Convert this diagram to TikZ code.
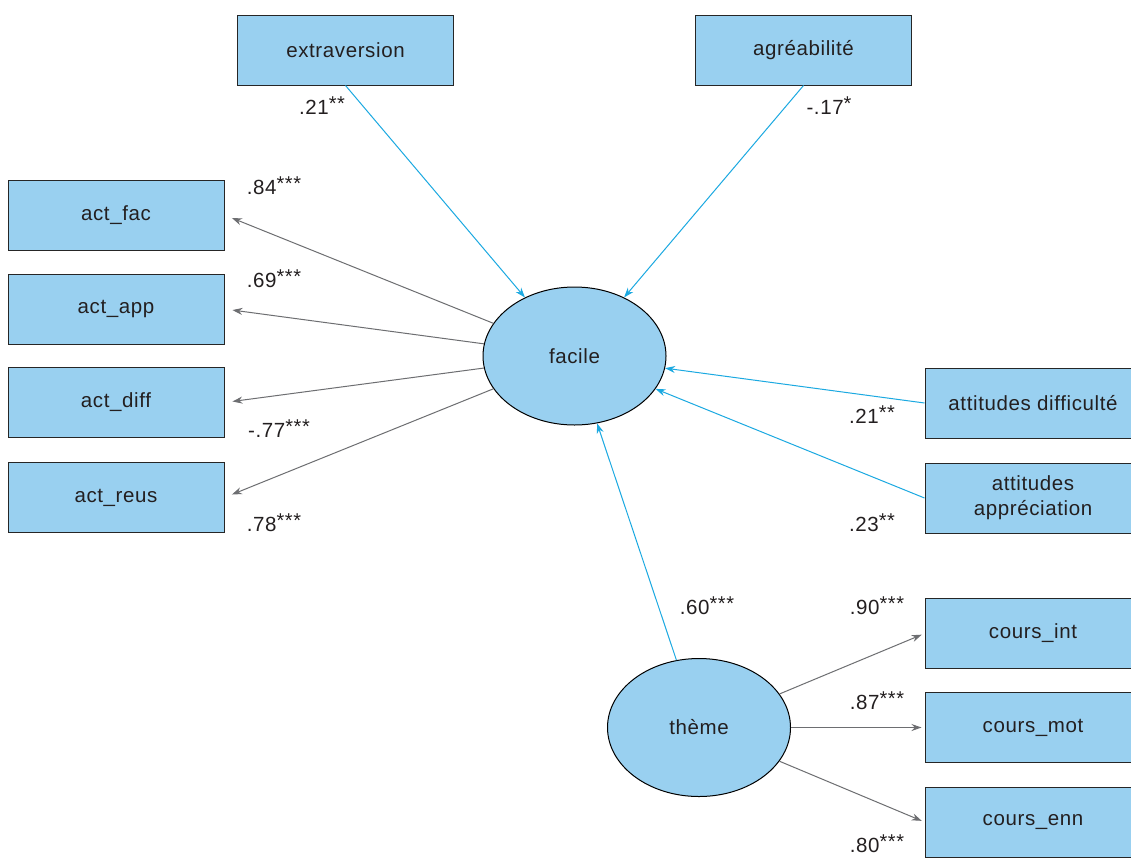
\documentclass[tikz,border=0pt]{standalone}
\usepackage{fontspec}
\setmainfont{Liberation Sans}[LetterSpace=3]
\usetikzlibrary{arrows.meta,shapes.geometric}
\definecolor{boxfill}{HTML}{99D0F0}
\definecolor{cyanline}{HTML}{1BA9E1}
\definecolor{greyline}{HTML}{6D6E71}
\definecolor{txt}{HTML}{231F20}
\newcommand\sig[1]{\raisebox{0.2em}{\fontsize{20}{20}\selectfont #1}}
\begin{document}
\begin{tikzpicture}[x=1pt,y=-1pt,
  every node/.style={font=\fontsize{20.5}{24}\selectfont, text=txt},
  obs/.style={draw=black!85, line width=1pt, fill=boxfill, minimum width=216pt, minimum height=70pt, inner sep=0pt},
  lat/.style={draw=black, line width=1pt, fill=boxfill, ellipse, minimum width=183pt, minimum height=138pt, inner sep=0pt},
  blueedge/.style={draw=cyanline, line width=1pt, -{Stealth[length=10pt,width=7pt]}},
  greyedge/.style={draw=greyline, line width=1pt, -{Stealth[length=10pt,width=7pt]}},
  coef/.style={inner sep=0pt}]
\useasboundingbox (0,0) rectangle (1131,857);
\clip (0,0) rectangle (1131,857);
\fill[white] (0,0) rectangle (1131,857);
% nodes
\node[obs] (ext) at (345.5,50) {extraversion};
\node[obs] (agr) at (803.5,50) {agréabilité};
\node[obs] (actfac) at (116,215) {act\_fac};
\node[obs] (actapp) at (116,309) {act\_app};
\node[obs] (actdiff) at (116,402.5) {act\_diff};
\node[obs] (actreus) at (116,497.5) {act\_reus};
\node[lat] (facile) at (574.5,356) {facile};
\node[obs] (attdiff) at (1033,403) {attitudes difficulté};
\node[obs, align=center, font=\fontsize{20.5}{25}\selectfont] (attapp) at (1033,498) {attitudes\\appréciation};
\node[lat] (theme) at (699,727.5) {thème};
\node[obs] (coursint) at (1033,633.5) {cours\_int};
\node[obs] (coursmot) at (1033,727.5) {cours\_mot};
\node[obs] (coursenn) at (1033,822) {cours\_enn};
% blue edges
\draw[blueedge] (ext.south) -- (facile);
\draw[blueedge] (agr.south) -- (facile);
\draw[blueedge] (attdiff.west) -- (facile);
\draw[blueedge] (attapp.west) -- (facile);
\draw[blueedge] (theme) -- (facile);
% grey edges
\draw[greyedge, shorten >=8pt] (facile) -- (actfac.east);
\draw[greyedge, shorten >=8pt] (facile) -- (actapp.east);
\draw[greyedge, shorten >=8pt] (facile) -- (actdiff.east);
\draw[greyedge, shorten >=8pt] (facile) -- (actreus.east);
\draw[greyedge, shorten >=3pt] (theme) -- (coursint.west);
\draw[greyedge, shorten >=3pt] (theme) -- (coursmot.west);
\draw[greyedge, shorten >=3pt] (theme) -- (coursenn.west);
% coefficients
\node[coef] (c1) at (322,106) {.21\sig{**}};
\node[coef] (c2) at (829,106) {-.17\sig{*}};
\node[coef] (c3) at (274,186) {.84\sig{***}};
\node[coef] (c4) at (274,279) {.69\sig{***}};
\node[coef] (c5) at (279,429) {-.77\sig{***}};
\node[coef] (c6) at (274,523) {.78\sig{***}};
\node[coef] (c7) at (872,415) {.21\sig{**}};
\node[coef] (c8) at (872,523) {.23\sig{**}};
\node[coef] (c9) at (707,606) {.60\sig{***}};
\node[coef] (c10) at (877,606) {.90\sig{***}};
\node[coef] (c11) at (877,701) {.87\sig{***}};
\node[coef] (c12) at (877,844) {.80\sig{***}};
\end{tikzpicture}
\end{document}
